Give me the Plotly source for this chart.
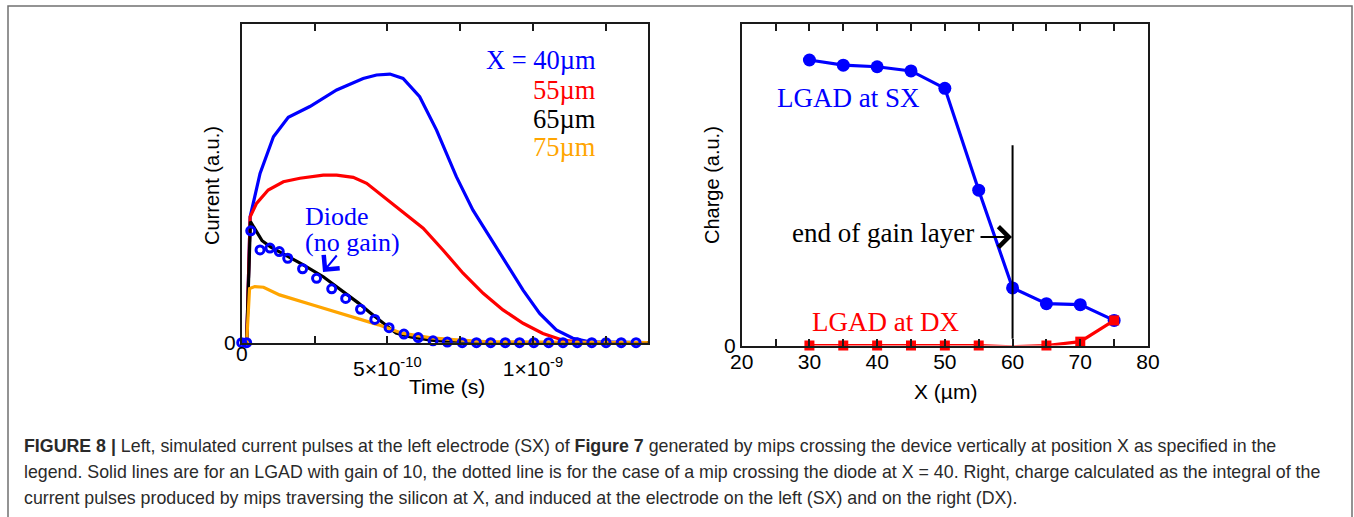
import numpy as np
import plotly.graph_objects as go

W, H = 1354, 517

# ---------------- Left panel data (time in ns, current in a.u.) ----------------
t40_ns = [0, 0.017, 0.029, 0.063, 0.109, 0.160, 0.234, 0.326, 0.417, 0.463, 0.509, 0.554,
          0.611, 0.669, 0.737, 0.794, 0.851, 0.909, 0.966, 1.023, 1.080, 1.137, 1.194, 1.394]
i40 = [0, 0, 0.395, 0.531, 0.646, 0.707, 0.741, 0.793, 0.829, 0.840, 0.843, 0.829,
       0.772, 0.667, 0.521, 0.416, 0.333, 0.249, 0.165, 0.092, 0.040, 0.014, 0.003, 0]

t55_ns = [0, 0.017, 0.029, 0.051, 0.091, 0.143, 0.200, 0.280, 0.326, 0.383, 0.429, 0.486,
          0.554, 0.623, 0.691, 0.760, 0.829, 0.897, 0.966, 1.034, 1.103, 1.171, 1.394]
i55 = [0, 0, 0.395, 0.437, 0.479, 0.505, 0.516, 0.526, 0.526, 0.519, 0.500, 0.458,
       0.411, 0.359, 0.291, 0.218, 0.155, 0.103, 0.061, 0.029, 0.008, 0, 0]

t65_ns = [0, 0.017, 0.030, 0.050, 0.070, 0.100, 0.140, 0.210, 0.280, 0.350, 0.400,
          0.440, 0.490, 0.530, 0.580, 0.650, 0.750, 1.394]
i65 = [0, 0, 0.380, 0.350, 0.320, 0.300, 0.280, 0.245, 0.207, 0.160, 0.125,
       0.095, 0.060, 0.030, 0.018, 0.008, 0, 0]

t75_ns = [0, 0.017, 0.027, 0.045, 0.075, 0.130, 0.250, 0.360, 0.470, 0.550, 0.650,
          0.750, 0.850, 1.394]
i75 = [0, 0, 0.170, 0.176, 0.174, 0.150, 0.117, 0.087, 0.056, 0.030, 0.015,
       0.008, 0.003, 0]

tdiode_ns = [0, 0.017, 0.031, 0.063, 0.097, 0.129, 0.158, 0.209, 0.257, 0.309, 0.357,
             0.408, 0.457, 0.506, 0.557, 0.606, 0.657, 0.706, 0.757, 0.806, 0.855,
             0.905, 0.954, 1.003, 1.054, 1.103, 1.152, 1.202, 1.251, 1.303, 1.354]
idiode = [0, 0, 0.351, 0.291, 0.297, 0.286, 0.265, 0.232, 0.202, 0.169, 0.139,
          0.105, 0.073, 0.047, 0.027, 0.016, 0.006, 0.002, 0, 0, 0,
          0, 0, 0, 0, 0, 0, 0, 0, 0, 0]

time_tickvals = [0, 2.5e-10, 5e-10, 7.5e-10, 1e-9, 1.25e-9]
time_ticktext = ["", "", "5×10<sup>-10</sup>", "", "1×10<sup>-9</sup>", ""]

# ---------------- Right panel data ----------------
pos_um = [30, 35, 40, 45, 50, 55, 60, 65, 70, 75]
charge_sx = [0.888, 0.872, 0.867, 0.854, 0.800, 0.483, 0.179, 0.130, 0.127, 0.078]
charge_dx = [0, 0, 0, 0, 0, 0, -0.004, 0, 0.012, 0.078]
gain_end_x = [60, 60]
gain_end_y = [0.021, 0.623]

x_tickvals = [20, 25, 30, 35, 40, 45, 50, 55, 60, 65, 70, 75, 80]
x_ticktext = ["20", "", "30", "", "40", "", "50", "", "60", "", "70", "", "80"]

BLUE = "#0000ff"
RED = "#ff0000"
ORANGE = "#ffa500"
BLACK = "#000000"
SANS = "Liberation Sans, Arial, sans-serif"
SERIF = "Liberation Serif, Times New Roman, serif"


def px(x):
    return x / W


def py(y):
    return 1 - y / H


fig = go.Figure()

ns = 1e-9
for t, v, c in [(t40_ns, i40, BLUE), (t55_ns, i55, RED), (t65_ns, i65, BLACK), (t75_ns, i75, ORANGE)]:
    fig.add_trace(go.Scatter(x=np.array(t) * ns, y=v, mode="lines",
                             line=dict(color=c, width=3.2), xaxis="x", yaxis="y",
                             cliponaxis=False, showlegend=False, hoverinfo="skip"))
fig.add_trace(go.Scatter(x=np.array(tdiode_ns) * ns, y=idiode, mode="markers",
                         marker=dict(symbol="circle-open", size=8, color=BLUE,
                                     line=dict(width=3, color=BLUE)),
                         xaxis="x", yaxis="y", cliponaxis=False, showlegend=False))

fig.add_trace(go.Scatter(x=pos_um, y=charge_sx, mode="lines+markers",
                         line=dict(color=BLUE, width=3.2),
                         marker=dict(symbol="circle", size=13, color=BLUE),
                         xaxis="x2", yaxis="y2", cliponaxis=False, showlegend=False))
fig.add_trace(go.Scatter(x=pos_um, y=charge_dx, mode="lines+markers",
                         line=dict(color=RED, width=3.2),
                         marker=dict(symbol="square", size=10, color=RED),
                         xaxis="x2", yaxis="y2", cliponaxis=False, showlegend=False))
fig.add_trace(go.Scatter(x=gain_end_x, y=gain_end_y, mode="lines",
                         line=dict(color=BLACK, width=2),
                         xaxis="x2", yaxis="y2", showlegend=False))

axis_common = dict(showline=True, linecolor="#1a1a1a", linewidth=1.5, showgrid=False,
                   zeroline=False, tickfont=dict(family=SANS, size=21, color="black"),
                   fixedrange=True, automargin=False)

fig.update_layout(
    width=W, height=H,
    margin=dict(l=0, r=0, t=0, b=0),
    paper_bgcolor="white", plot_bgcolor="white",
    showlegend=False,
    xaxis=dict(domain=[px(241.7), px(648)], range=[0, 1.395e-9], anchor="y",
               tickvals=time_tickvals, ticktext=time_ticktext, ticks="inside",
               ticklen=7, tickwidth=1.5, tickcolor="#1a1a1a", mirror="allticks",
               ticklabelstandoff=6, **axis_common),
    yaxis=dict(domain=[py(342.7), py(24)], range=[0, 1], anchor="x",
               tickvals=[0], ticktext=["0"], ticks="", mirror=True, **axis_common),
    xaxis2=dict(domain=[px(741.7), px(1148)], range=[20, 80], anchor="y2",
                tickvals=x_tickvals, ticktext=x_ticktext, ticks="inside",
                ticklen=7, tickwidth=1.5, tickcolor="#1a1a1a", mirror="allticks",
                ticklabelstandoff=-3, **axis_common),
    yaxis2=dict(domain=[py(345.5), py(24)], range=[0, 1], anchor="x2",
                tickvals=[0], ticktext=["0"], ticks="", mirror=True, **axis_common),
)

ann = []


def text(x, y, s, size, color, family, xanchor="center", yanchor="middle", angle=0):
    ann.append(dict(x=px(x), y=py(y), xref="paper", yref="paper", text=s, showarrow=False,
                    xanchor=xanchor, yanchor=yanchor, textangle=angle,
                    font=dict(size=size, color=color, family=family)))


# axis titles
text(212, 185, "Current (a.u.)", 20, "black", SANS, angle=-90)
text(447, 386, "Time (s)", 21, "black", SANS)
text(712, 185, "Charge (a.u.)", 20, "black", SANS, angle=-90)
text(945, 391, "X (µm)", 21, "black", SANS)
# left x-axis zero label
text(242, 353, "0", 21, "black", SANS)

# legend-like labels, left
text(598, 60, "X = 40µm", 26.5, BLUE, SERIF, xanchor="right")
text(598, 90, "55µm", 26.5, RED, SERIF, xanchor="right")
text(598, 119, "65µm", 26.5, BLACK, SERIF, xanchor="right")
text(598, 147, "75µm", 26.5, ORANGE, SERIF, xanchor="right")
text(303, 217, "Diode", 26, BLUE, SERIF, xanchor="left")
text(303, 243, "(no gain)", 26, BLUE, SERIF, xanchor="left")

# right labels
text(775, 98, "LGAD at SX", 27, BLUE, SERIF, xanchor="left")
text(810, 322, "LGAD at DX", 27, RED, SERIF, xanchor="left")
text(790, 233, "end of gain layer", 27, BLACK, SERIF, xanchor="left")

# arrows
ann.append(dict(x=px(323), y=py(272), xref="paper", yref="paper", ax=15, ay=-18,
                text="", showarrow=True, arrowhead=4,
                arrowsize=2, arrowwidth=2, arrowcolor=BLUE))
ann.append(dict(x=px(1012), y=py(237), xref="paper", yref="paper", ax=-33, ay=0,
                text="", showarrow=True, arrowhead=4, arrowsize=2, arrowwidth=2,
                arrowcolor=BLACK))

# caption
cap = [
    "<b>FIGURE 8 |</b> Left, simulated current pulses at the left electrode (SX) of <b>Figure 7</b> "
    "generated by mips crossing the device vertically at position X as specified in the",
    "legend. Solid lines are for an LGAD with gain of 10, the dotted line is for the case of a mip "
    "crossing the diode at X = 40. Right, charge calculated as the integral of the",
    "current pulses produced by mips traversing the silicon at X, and induced at the electrode on "
    "the left (SX) and on the right (DX).",
]
for i, line in enumerate(cap):
    text(22, 446 + 26 * i, line, 17.8, "#2a2a2a", SANS, xanchor="left")

fig.update_layout(annotations=ann)

fig.add_shape(type="rect", xref="paper", yref="paper", x0=px(8), x1=px(1352),
              y0=py(540), y1=py(6), line=dict(color="#707070", width=1.5),
              fillcolor="rgba(0,0,0,0)", layer="above")

fig.write_html("out.html")
